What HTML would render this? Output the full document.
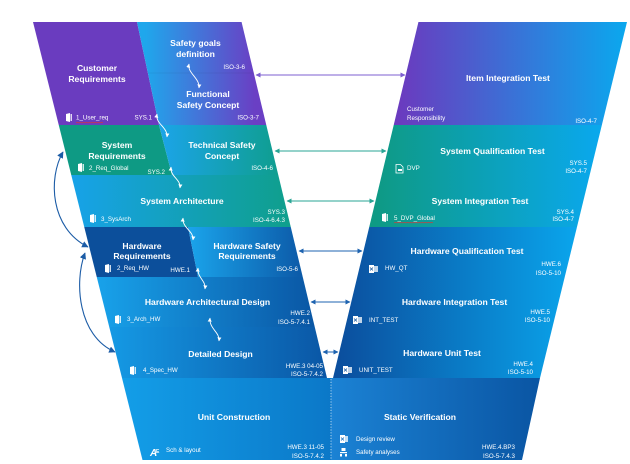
<!DOCTYPE html>
<html><head><meta charset="utf-8"><style>
html,body{margin:0;padding:0;background:#fff;}
svg{display:block;}
text{font-family:"Liberation Sans",Arial,sans-serif;fill:#fff;}
.t{font-size:8.6px;font-weight:bold;text-anchor:middle;}
.s{font-size:6.2px;}
.e{font-size:6.2px;text-anchor:end;}
</style></head><body>
<svg width="630" height="464" viewBox="0 0 630 464" xmlns="http://www.w3.org/2000/svg">
<defs>
<linearGradient id="gSafe" gradientUnits="userSpaceOnUse" x1="145" y1="0" x2="255" y2="0"><stop offset="0" stop-color="#1fa7ec"/><stop offset="1" stop-color="#6a3fc4"/></linearGradient>
<linearGradient id="gTSC" gradientUnits="userSpaceOnUse" x1="160" y1="0" x2="280" y2="0"><stop offset="0" stop-color="#1ba4e8"/><stop offset="1" stop-color="#0f9e8e"/></linearGradient>
<linearGradient id="gSA" gradientUnits="userSpaceOnUse" x1="72" y1="0" x2="290" y2="0"><stop offset="0" stop-color="#17a2e8"/><stop offset="1" stop-color="#0f9f8c"/></linearGradient>
<linearGradient id="gHWSR" gradientUnits="userSpaceOnUse" x1="190" y1="0" x2="302" y2="0"><stop offset="0" stop-color="#1aa3ea"/><stop offset="1" stop-color="#0c5aa8"/></linearGradient>
<linearGradient id="gHWA" gradientUnits="userSpaceOnUse" x1="97" y1="0" x2="315" y2="0"><stop offset="0" stop-color="#18a2ea"/><stop offset="1" stop-color="#0a56a4"/></linearGradient>
<linearGradient id="gDD" gradientUnits="userSpaceOnUse" x1="110" y1="0" x2="327" y2="0"><stop offset="0" stop-color="#1599e4"/><stop offset="1" stop-color="#0a56a5"/></linearGradient>
<linearGradient id="gUC" gradientUnits="userSpaceOnUse" x1="122" y1="0" x2="331" y2="0"><stop offset="0" stop-color="#139ee8"/><stop offset="1" stop-color="#0b78c8"/></linearGradient>
<linearGradient id="gSV" gradientUnits="userSpaceOnUse" x1="331" y1="0" x2="540" y2="0"><stop offset="0" stop-color="#1b82d4"/><stop offset="1" stop-color="#0a55a3"/></linearGradient>
<linearGradient id="gIIT" gradientUnits="userSpaceOnUse" x1="400" y1="0" x2="627" y2="0"><stop offset="0" stop-color="#6a3bbf"/><stop offset="1" stop-color="#0aa8ee"/></linearGradient>
<linearGradient id="gST" gradientUnits="userSpaceOnUse" x1="375" y1="0" x2="602" y2="0"><stop offset="0" stop-color="#0e9a84"/><stop offset="1" stop-color="#0aa8ee"/></linearGradient>
<linearGradient id="gHT" gradientUnits="userSpaceOnUse" x1="340" y1="0" x2="577" y2="0"><stop offset="0" stop-color="#0b4f9e"/><stop offset="1" stop-color="#0aa5ec"/></linearGradient>
<marker id="mW" viewBox="0 0 10 10" refX="9" refY="5" markerWidth="4.5" markerHeight="4.5" orient="auto-start-reverse"><path d="M0,0 L10,5 L0,10 z" fill="#fff"/></marker>
<marker id="mP" viewBox="0 0 10 10" refX="9" refY="5" markerWidth="5" markerHeight="5" orient="auto-start-reverse"><path d="M0,0 L10,5 L0,10 z" fill="#7d5fd0"/></marker>
<marker id="mT" viewBox="0 0 10 10" refX="9" refY="5" markerWidth="5" markerHeight="5" orient="auto-start-reverse"><path d="M0,0 L10,5 L0,10 z" fill="#2aa595"/></marker>
<marker id="mB" viewBox="0 0 10 10" refX="9" refY="5" markerWidth="5" markerHeight="5" orient="auto-start-reverse"><path d="M0,0 L10,5 L0,10 z" fill="#1e63b0"/></marker>
<marker id="mD" viewBox="0 0 10 10" refX="9" refY="5" markerWidth="6" markerHeight="6" orient="auto-start-reverse"><path d="M0,0 L10,5 L0,10 z" fill="#1c5ca6"/></marker>
</defs>

<!-- LEFT ARM -->
<polygon points="33,22 137,22 159,125 58.75,125" fill="#6a3cbf"/>
<polygon points="137,22 241.56,22 266.28,125 159,125" fill="url(#gSafe)"/>
<line x1="148" y1="73" x2="253.8" y2="73" stroke="#000" stroke-opacity="0.05" stroke-width="1"/>
<polygon points="58.75,125 159,125 172,175 71.25,175" fill="#0e9a84"/>
<polygon points="159,125 266.28,125 278.28,175 172,175" fill="url(#gTSC)"/>
<polygon points="71.25,175 278.28,175 290.76,227 84.25,227" fill="url(#gSA)"/>
<polygon points="84.25,227 188,227 198,277 96.75,277" fill="#0c4f9b"/>
<polygon points="188,227 290.76,227 302.76,277 198,277" fill="url(#gHWSR)"/>
<polygon points="96.75,277 302.76,277 314.76,327 109.25,327" fill="url(#gHWA)"/>
<polygon points="109.25,327 314.76,327 327,378 122,378" fill="url(#gDD)"/>
<polygon points="122,378 331,378 331,460 142.5,460" fill="url(#gUC)"/>
<polygon points="331,378 540,378 522,460 331,460" fill="url(#gSV)"/>

<!-- RIGHT ARM -->
<polygon points="418.44,22 627,22 601.87,125 393.72,125" fill="url(#gIIT)"/>
<polygon points="393.72,125 601.87,125 576.98,227 369.24,227" fill="url(#gST)"/>
<polygon points="369.24,227 576.98,227 540,378 333,378" fill="url(#gHT)"/>

<line x1="331" y1="379" x2="331" y2="460" stroke="#fff" stroke-opacity="0.75" stroke-width="0.9" stroke-dasharray="1.2,1.6"/>

<!-- horizontal arrows -->
<line x1="256" y1="75" x2="405" y2="75" stroke="#7d5fd0" stroke-width="1" marker-start="url(#mP)" marker-end="url(#mP)"/>
<line x1="275" y1="151" x2="386" y2="151" stroke="#2aa595" stroke-width="1" marker-start="url(#mT)" marker-end="url(#mT)"/>
<line x1="287" y1="201" x2="374" y2="201" stroke="#2aa595" stroke-width="1" marker-start="url(#mT)" marker-end="url(#mT)"/>
<line x1="299" y1="251" x2="362" y2="251" stroke="#1e63b0" stroke-width="1" marker-start="url(#mB)" marker-end="url(#mB)"/>
<line x1="311" y1="302" x2="350" y2="302" stroke="#1e63b0" stroke-width="1" marker-start="url(#mB)" marker-end="url(#mB)"/>
<line x1="323" y1="352" x2="338" y2="352" stroke="#1e63b0" stroke-width="1" marker-start="url(#mB)" marker-end="url(#mB)"/>

<!-- left curved arrows -->
<path d="M63,152 C48,178 50,228 88,247" fill="none" stroke="#1c5ca6" stroke-width="1.1" marker-start="url(#mD)" marker-end="url(#mD)"/>
<path d="M85,253 C74,282 78,336 115,352" fill="none" stroke="#1c5ca6" stroke-width="1.1" marker-start="url(#mD)" marker-end="url(#mD)"/>

<!-- white curly arrows -->
<g fill="none" stroke="#fff" stroke-width="0.9">
<path d="M189,64 C187,73 200,78 199,88" marker-start="url(#mW)" marker-end="url(#mW)"/>
<path d="M157,114 C155,124 168,127 167,137" marker-start="url(#mW)" marker-end="url(#mW)"/>
<path d="M171,167 C170,177 181,179 180,188" marker-start="url(#mW)" marker-end="url(#mW)"/>
<path d="M183,218 C182,228 194,231 193,240" marker-start="url(#mW)" marker-end="url(#mW)"/>
<path d="M198,268 C197,278 206,280 205,289" marker-start="url(#mW)" marker-end="url(#mW)"/>
<path d="M210,318 C209,329 220,332 219,341" marker-start="url(#mW)" marker-end="url(#mW)"/>
</g>

<!-- door icons -->
<g fill="#fff">
<path d="M66,114 L70,113 L70,122 L66,121 Z"/><rect x="70.5" y="114" width="1.5" height="7" opacity=".8"/>
<path d="M78,164 L82,163 L82,172 L78,171 Z"/><rect x="82.5" y="164" width="1.5" height="7" opacity=".8"/>
<path d="M90,215 L94,214 L94,223 L90,222 Z"/><rect x="94.5" y="215" width="1.5" height="7" opacity=".8"/>
<path d="M105,265 L109,264 L109,273 L105,272 Z"/><rect x="109.5" y="265" width="1.5" height="7" opacity=".8"/>
<path d="M115,316 L119,315 L119,324 L115,323 Z"/><rect x="119.5" y="316" width="1.5" height="7" opacity=".8"/>
<path d="M130,367 L134,366 L134,375 L130,374 Z"/><rect x="134.5" y="367" width="1.5" height="7" opacity=".8"/>
<path d="M382,214 L386,213 L386,222 L382,221 Z"/><rect x="386.5" y="214" width="1.5" height="7" opacity=".8"/>
</g>

<!-- excel icons -->
<g>
<rect x="369" y="265" width="5" height="8" fill="#fff"/><rect x="374" y="266" width="4" height="6" fill="#fff" opacity=".75"/><path d="M370,267.5 l3,3 m0,-3 l-3,3" stroke="#1a5aa0" stroke-width=".8"/>
<rect x="353" y="316" width="5" height="8" fill="#fff"/><rect x="358" y="317" width="4" height="6" fill="#fff" opacity=".75"/><path d="M354,318.5 l3,3 m0,-3 l-3,3" stroke="#1a5aa0" stroke-width=".8"/>
<rect x="343" y="366" width="5" height="8" fill="#fff"/><rect x="348" y="367" width="4" height="6" fill="#fff" opacity=".75"/><path d="M344,368.5 l3,3 m0,-3 l-3,3" stroke="#1a5aa0" stroke-width=".8"/>
<rect x="340" y="435" width="5" height="8" fill="#fff"/><rect x="345" y="436" width="3" height="6" fill="#fff" opacity=".75"/><path d="M341,437.5 l3,3 m0,-3 l-3,3" stroke="#1a70c0" stroke-width=".8"/>
</g>
<!-- safety analyses icon -->
<g fill="#fff"><rect x="341.5" y="448" width="4" height="3"/><rect x="340" y="452" width="7" height="1.2"/><rect x="340" y="454" width="2" height="2.5"/><rect x="345" y="454" width="2" height="2.5"/></g>
<!-- DVP doc icon -->
<path d="M396,164.5 h4.5 l2.5,2.5 v6 h-7 z" fill="none" stroke="#fff" stroke-width=".8"/><rect x="398" y="169" width="4" height="2" fill="#fff"/>
<!-- AE icon -->
<text x="150" y="456" style="font-size:10px;font-weight:bold;font-style:italic;">A</text><text x="156" y="453" style="font-size:5px;font-weight:bold;">E</text>

<!-- spellcheck squiggles -->
<path d="M76,123 l1.5,-.8 l1.5,.8 l1.5,-.8 l1.5,.8 l1.5,-.8 l1.5,.8 l1.5,-.8 l1.5,.8 l1.5,-.8 l1.5,.8 l1.5,-.8 l1.5,.8 l1.5,-.8 l1.5,.8 l1.5,-.8 l1.5,.8 l1.5,-.8 l1.5,.8" fill="none" stroke="#e03535" stroke-width=".6"/>
<path d="M394,223 l1.5,-.8 l1.5,.8 l1.5,-.8 l1.5,.8 l1.5,-.8 l1.5,.8 l1.5,-.8 l1.5,.8 l1.5,-.8 l1.5,.8 l1.5,-.8 l1.5,.8 l1.5,-.8 l1.5,.8 l1.5,-.8 l1.5,.8 l1.5,-.8 l1.5,.8 l1.5,-.8 l1.5,.8 l1.5,-.8 l1.5,.8 l1.5,-.8 l1.5,.8 l1.5,-.8 l1.5,.8" fill="none" stroke="#e03535" stroke-width=".6"/>

<!-- titles -->
<text class="t" x="97" y="71">Customer</text>
<text class="t" x="97" y="82">Requirements</text>
<text class="t" x="195.5" y="46">Safety goals</text>
<text class="t" x="195.5" y="57">definition</text>
<text class="t" x="208" y="97">Functional</text>
<text class="t" x="208" y="108">Safety Concept</text>
<text class="t" x="117" y="148">System</text>
<text class="t" x="117" y="159">Requirements</text>
<text class="t" x="222" y="148">Technical Safety</text>
<text class="t" x="222" y="159">Concept</text>
<text class="t" x="182" y="204">System Architecture</text>
<text class="t" x="142" y="249">Hardware</text>
<text class="t" x="142" y="259">Requirements</text>
<text class="t" x="247" y="249">Hardware Safety</text>
<text class="t" x="247" y="259">Requirements</text>
<text class="t" x="207.5" y="305">Hardware Architectural Design</text>
<text class="t" x="220.5" y="357">Detailed Design</text>
<text class="t" x="234" y="420">Unit Construction</text>
<text class="t" x="420" y="420">Static Verification</text>
<text class="t" x="508" y="81">Item Integration Test</text>
<text class="t" x="492.5" y="154">System Qualification Test</text>
<text class="t" x="480" y="204">System Integration Test</text>
<text class="t" x="467" y="254">Hardware Qualification Test</text>
<text class="t" x="454.5" y="305">Hardware Integration Test</text>
<text class="t" x="442" y="356">Hardware Unit Test</text>

<!-- small labels left -->
<text class="s" x="76" y="119.5">1_User_req</text>
<text class="e" x="152" y="119.5">SYS.1</text>
<text class="e" x="245" y="69">ISO-3-6</text>
<text class="e" x="259" y="119.5">ISO-3-7</text>
<text class="s" x="89" y="170">2_Req_Global</text>
<text class="e" x="165" y="174">SYS.2</text>
<text class="e" x="273" y="170">ISO-4-6</text>
<text class="s" x="101" y="221">3_SysArch</text>
<text class="e" x="285" y="214">SYS.3</text>
<text class="e" x="285" y="222">ISO-4-6.4.3</text>
<text class="s" x="117" y="270">2_Req_HW</text>
<text class="e" x="190" y="272">HWE.1</text>
<text class="e" x="298" y="271">ISO-5-6</text>
<text class="s" x="127" y="321">3_Arch_HW</text>
<text class="e" x="310" y="315">HWE.2</text>
<text class="e" x="310" y="324">ISO-5-7.4.1</text>
<text class="s" x="143" y="372">4_Spec_HW</text>
<text class="e" x="323" y="368">HWE.3 04-05</text>
<text class="e" x="323" y="376">ISO-5-7.4.2</text>
<text class="s" x="166" y="452">Sch &amp; layout</text>
<text class="e" x="324" y="449">HWE.3 11-05</text>
<text class="e" x="324" y="458">ISO-5-7.4.2</text>
<text class="s" x="356" y="441">Design review</text>
<text class="s" x="356" y="454">Safety analyses</text>
<text class="e" x="515" y="449">HWE.4.BP3</text>
<text class="e" x="515" y="458">ISO-5-7.4.3</text>

<!-- small labels right -->
<text class="s" x="407" y="111">Customer</text>
<text class="s" x="407" y="120">Responsibility</text>
<text class="e" x="597" y="123">ISO-4-7</text>
<text class="s" x="407" y="170">DVP</text>
<text class="e" x="587" y="165">SYS.5</text>
<text class="e" x="587" y="173">ISO-4-7</text>
<text class="s" x="394" y="220">5_DVP_Global</text>
<text class="e" x="574" y="214">SYS.4</text>
<text class="e" x="574" y="221">ISO-4-7</text>
<text class="s" x="385" y="270">HW_QT</text>
<text class="e" x="561" y="266">HWE.6</text>
<text class="e" x="561" y="275">ISO-5-10</text>
<text class="s" x="369" y="322">INT_TEST</text>
<text class="e" x="550" y="314">HWE.5</text>
<text class="e" x="550" y="322">ISO-5-10</text>
<text class="s" x="359" y="372">UNIT_TEST</text>
<text class="e" x="533" y="366">HWE.4</text>
<text class="e" x="533" y="374">ISO-5-10</text>
</svg>
</body></html>
